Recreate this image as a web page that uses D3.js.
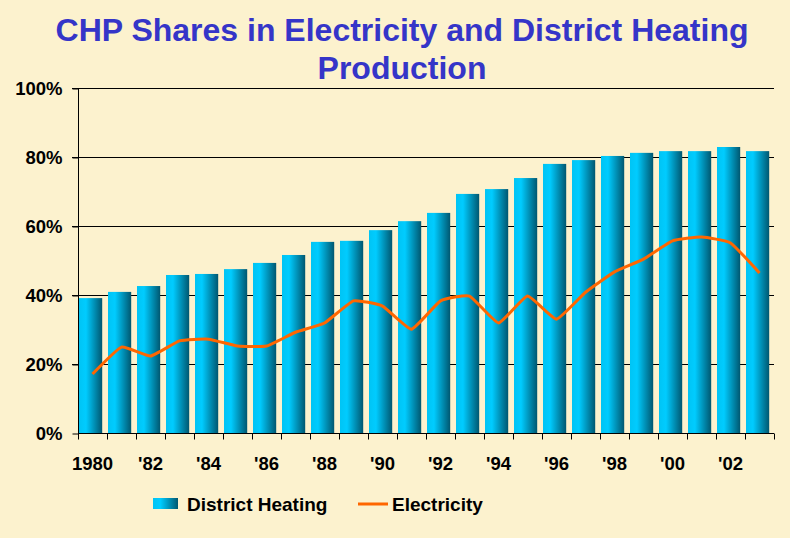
<!DOCTYPE html>
<html><head><meta charset="utf-8">
<script src="https://cdn.jsdelivr.net/npm/d3@7"></script>
<style>
html,body{margin:0;padding:0;background:#FCF2CE;}
svg{display:block;}
text{font-family:"Liberation Sans",Arial,sans-serif;font-weight:bold;}
</style></head>
<body>
<svg id="chart" width="790" height="538"></svg>
<script>
const years = [1980,1981,1982,1983,1984,1985,1986,1987,1988,1989,1990,1991,1992,1993,1994,1995,1996,1997,1998,1999,2000,2001,2002,2003];
const districtHeating = [39.1,40.9,42.6,45.8,46.1,47.5,49.3,51.6,55.4,55.7,58.8,61.4,63.8,69.3,70.7,73.9,78.0,79.1,80.3,81.2,81.7,81.7,82.9,81.7];
const electricity = [17.1,24.9,22.3,26.7,27.2,25.2,25.2,29.2,31.9,38.3,36.8,30.1,38.3,39.7,31.9,39.7,33.0,40.8,46.7,50.4,55.7,56.8,55.1,46.4];
const yTicks = [0,20,40,60,80,100];
const yearLabels = ["1980","","'82","","'84","","'86","","'88","","'90","","'92","","'94","","'96","","'98","","'00","","'02",""];
const titleLines = ["CHP Shares in Electricity and District Heating","Production"];
const seriesNames = ["District Heating","Electricity"];

const svg = d3.select("#chart");
const pLeft = 78, pRight = 774, pTop = 88, pBottom = 433;

const x = d3.scaleBand().domain(years).range([pLeft, pRight]).padding(0);
const y = d3.scaleLinear().domain([0,100]).range([pBottom, pTop]);

const defs = svg.append("defs");
const grad = defs.append("linearGradient").attr("id","barGrad").attr("x1","0%").attr("x2","100%").attr("y1","0%").attr("y2","0%");
grad.append("stop").attr("offset","0%").attr("stop-color","#00C4F4");
grad.append("stop").attr("offset","30%").attr("stop-color","#00CCFF");
grad.append("stop").attr("offset","100%").attr("stop-color","#005770");

// title
svg.append("g").selectAll("text").data(titleLines).join("text")
  .attr("x", 402).attr("y", (d,i)=> 41 + i*38)
  .attr("text-anchor","middle").attr("fill","#3535C8").attr("font-size", 32)
  .text(d=>d);

// gridlines
svg.append("g").selectAll("line").data(yTicks.filter(t=>t>0)).join("line")
  .attr("x1", pLeft-6).attr("x2", pRight).attr("y1", d=>y(d)+0.5).attr("y2", d=>y(d)+0.5)
  .attr("stroke","#000").attr("stroke-width",1);

// bars
const bw = x.bandwidth()*0.8;
svg.append("g").selectAll("rect").data(years).join("rect")
  .attr("x", d=> x(d)+1).attr("width", bw)
  .attr("y", (d,i)=> y(districtHeating[i])).attr("height", (d,i)=> pBottom - y(districtHeating[i]))
  .attr("fill","url(#barGrad)");

// y axis
const yAxis = d3.axisLeft(y).tickValues(yTicks).tickFormat(d=>d+"%").tickSize(6).tickPadding(10);
const gy = svg.append("g").attr("transform",`translate(${pLeft+0.5},0.5)`).call(yAxis);
gy.select(".domain").attr("stroke","#000").attr("d",`M-6,${pTop}H0V${pBottom}`);
gy.selectAll(".tick line").attr("stroke","#000");
gy.selectAll("text").attr("font-size",18.5).attr("fill","#000").attr("font-family","Liberation Sans, Arial, sans-serif").attr("font-weight","bold");

// x axis (ticks at band boundaries)
const gx = svg.append("g").attr("transform",`translate(0,${pBottom+0.5})`);
gx.append("line").attr("x1",pLeft).attr("x2",pRight).attr("stroke","#000");
const bounds = years.map(d=>x(d)).concat([pRight]);
gx.selectAll("line.tk").data(bounds).join("line").attr("class","tk")
  .attr("x1",d=>Math.round(d)+0.5).attr("x2",d=>Math.round(d)+0.5).attr("y1",0).attr("y2",6).attr("stroke","#000");
gx.selectAll("text").data(years).join("text")
  .attr("x", d=> x(d)+x.bandwidth()/2).attr("y", 36)
  .attr("text-anchor","middle").attr("font-size",18.5).attr("fill","#000")
  .text((d,i)=>yearLabels[i]);

// electricity line
const line = d3.line().x((d,i)=> x(years[i])+x.bandwidth()/2).y(d=>y(d)).curve(d3.curveCardinal.tension(0.6));
svg.append("path").datum(electricity).attr("d",line)
  .attr("fill","none").attr("stroke","#FF6600").attr("stroke-width",3).attr("stroke-linejoin","round");

// legend
const lg = svg.append("g");
lg.append("rect").attr("x",153).attr("y",498).attr("width",25).attr("height",11).attr("fill","url(#barGrad)");
lg.append("text").attr("x",187).attr("y",511).attr("font-size",19).attr("fill","#000").text(seriesNames[0]);
lg.append("line").attr("x1",358).attr("x2",388).attr("y1",504).attr("y2",504).attr("stroke","#FF6600").attr("stroke-width",3);
lg.append("text").attr("x",392).attr("y",511).attr("font-size",19).attr("fill","#000").text(seriesNames[1]);
</script>
</body></html>
